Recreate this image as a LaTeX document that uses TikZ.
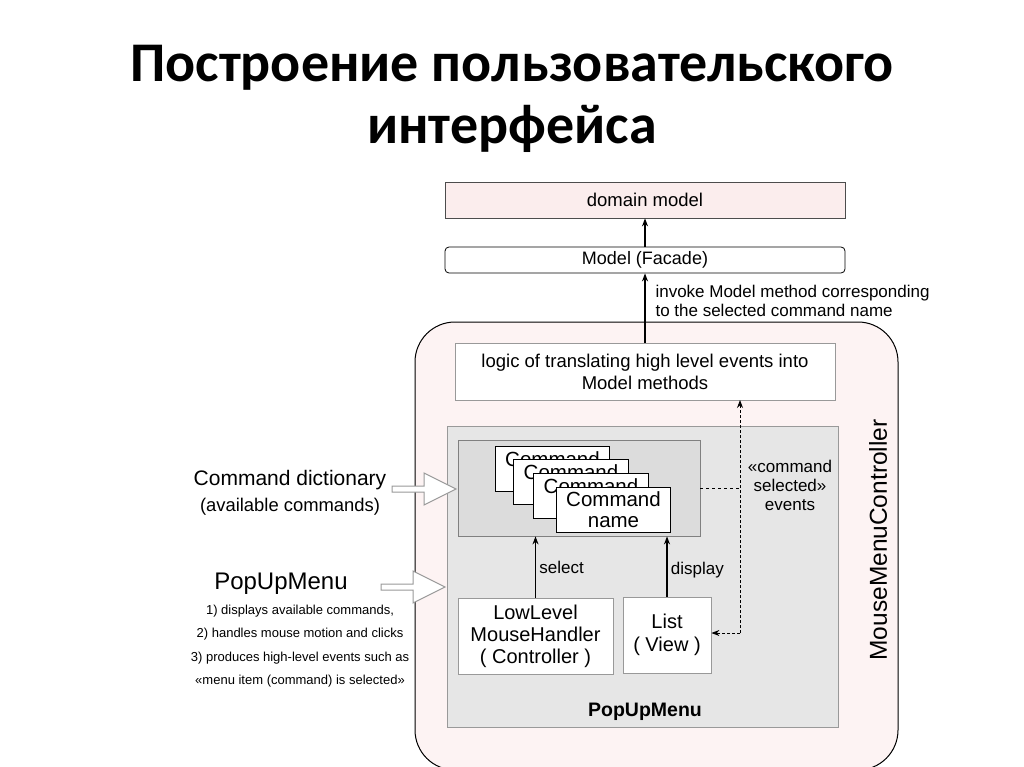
\documentclass[tikz,border=0pt]{standalone}
\usepackage{fontspec}
\setmainfont{Liberation Sans}
\newfontfamily\titlefont{Carlito}
\usetikzlibrary{arrows.meta}
\definecolor{pinkA}{HTML}{FBEDED}
\definecolor{pinkB}{HTML}{FDF3F3}
\definecolor{grayA}{HTML}{E6E6E6}
\definecolor{grayB}{HTML}{DCDCDC}
\begin{document}
\begin{tikzpicture}[x=1pt,y=-1pt,
  box/.style={draw=black!70,line width=0.8pt,align=center,inner sep=0pt,font=\fontsize{18}{21}\selectfont},
  card/.style={draw=black,line width=1pt,fill=white,anchor=north west,inner sep=0pt},
  arr/.style={-{Stealth[length=8pt,width=6pt]},line width=1.2pt},
  hollow/.style={draw=black!40,line width=1pt,fill=white},
  txt/.style={font=\fontsize{17}{19}\selectfont,align=center},
  ctxt/.style={font=\fontsize{20.5}{21}\selectfont,align=center}]
\useasboundingbox (0,0) rectangle (1024,767);
\fill[white] (0,0) rectangle (1024,767);
\node[font=\titlefont\bfseries\fontsize{56}{62}\selectfont,align=center] (title) at (512,99) {Построение пользовательского\\интерфейса};
% outer controller
\draw[line width=1pt,fill=pinkB,rounded corners=40pt] (415,322) rectangle (898,770);
\node[rotate=90,font=\fontsize{24.5}{26}\selectfont] (mmc) at (878,540) {MouseMenuController};
% top boxes
\node[box,fill=pinkA,minimum width=400pt,minimum height=36pt,font=\fontsize{18.5}{21}\selectfont] (dom) at (645,200) {domain model};
\node[box,draw=black,fill=white,rounded corners=4pt,minimum width=400pt,minimum height=26pt] (fac) at (645,260) {Model (Facade)};
\node[box,draw=black!40,fill=white,minimum width=380pt,minimum height=57pt,font=\fontsize{18.5}{22}\selectfont] (logic) at (645,371.5) {logic of translating high level events into\\Model methods};
\draw[arr] (fac.north) -- (dom.south);
\draw[arr] (logic.north) -- (fac.south);
\node[txt,anchor=west,align=left] (inv) at (652,301) {invoke Model method corresponding\\to the selected command name};
% popup menu
\node[box,draw=black!40,fill=grayA,minimum width=391pt,minimum height=301pt] (pum) at (642.5,576.5) {};
\node[font=\bfseries\fontsize{19.5}{21}\selectfont] (pumlbl) at (645,712) {PopUpMenu};
\node[box,draw=black!50,fill=grayB,minimum width=242pt,minimum height=96pt] (inner) at (579,488) {};
\node[card,minimum width=114pt,minimum height=45pt] (c1) at (495,446) {};
\node[ctxt,anchor=north,yshift=-2pt] at (c1.north) {Command};
\node[card,minimum width=115pt,minimum height=45pt] (c2) at (513,459) {};
\node[ctxt,anchor=north,yshift=-2pt] at (c2.north) {Command};
\node[card,minimum width=115pt,minimum height=45pt] (c3) at (533,473) {};
\node[ctxt,anchor=north,yshift=-2pt] at (c3.north) {Command};
\node[card,minimum width=114pt,minimum height=45pt,ctxt,anchor=north west] (c4) at (556,487) {Command\\name};
\node[box,draw=black!40,fill=white,minimum width=155pt,minimum height=76pt,font=\fontsize{20}{22}\selectfont] (llm) at (535.5,636) {LowLevel\\MouseHandler\\( Controller )};
\node[box,draw=black!40,fill=white,minimum width=88pt,minimum height=76pt,font=\fontsize{20}{23}\selectfont] (list) at (667,635) {List\\( View )};
\draw[arr] (llm.north) -- (llm.north |- inner.south) node[midway,right,txt] {select};
\draw[arr] (list.north) -- (list.north |- inner.south) node[midway,right,txt,yshift=-4pt] {display};
% dashed event path
\coordinate (j) at (740,488);
\draw[dashed,line width=0.9pt] (inner.east |- j) -- (j);
\draw[densely dashed,line width=0.9pt,-{Stealth[length=8pt,width=6pt]}] (740,633) -- (740,400);
\draw[densely dashed,line width=0.9pt,-{Stealth[length=8pt,width=6pt]}] (740,633) -- (list.east |- 0,633);
\node[txt,fill=grayA,inner sep=1pt] (evt) at (790,485) {«command\\selected»\\events};
% left side
\node[font=\fontsize{21}{26}\selectfont,align=center] (cd) at (290,493) {Command dictionary\\{\fontsize{18.4}{19}\selectfont(available commands)}};
\draw[hollow] (392,486)--(424,486)--(424,473)--(456,489)--(424,505)--(424,492)--(392,492)--cycle;
\node[font=\fontsize{24}{26}\selectfont] (pl) at (281,584) {PopUpMenu};
\draw[hollow] (381,584)--(413,584)--(413,571)--(445,587)--(413,603)--(413,590)--(381,590)--cycle;
\node[txt,font=\fontsize{13}{23.5}\selectfont] (desc) at (300,646) {1) displays available commands,\\2) handles mouse motion and clicks\\3) produces high-level events such as\\«menu item (command) is selected»};
\end{tikzpicture}
\end{document}
